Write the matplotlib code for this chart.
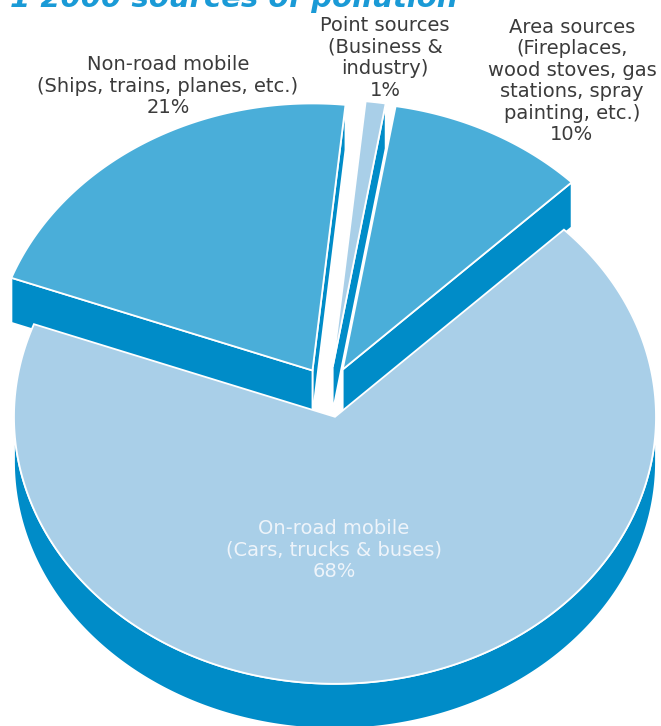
import numpy as np
import matplotlib
matplotlib.use("Agg")
import matplotlib.pyplot as plt
from matplotlib.patches import Polygon

# ---- data ----
categories = ["Area sources", "Point sources", "Non-road mobile", "On-road mobile"]
details = ["(Fireplaces,\nwood stoves, gas\nstations, spray\npainting, etc.)",
           "(Business &\nindustry)",
           "(Ships, trains, planes, etc.)",
           "(Cars, trucks & buses)"]
shares = [10, 1, 21, 68]
title_text = "1 2000 sources of pollution"

# ---- style ----
top_colors = ["#4aaed9", "#a9cfe8", "#4aaed9", "#a9cfe8"]
wall_color = "#008cc8"
W, H = 661, 726
cx0, cy0 = 328.6, 392.0      # pie centre (pixels)
ra, rb = 321.0, 267.0        # horizontal / vertical radius
depth = 45.0
explode = 0.095
start_angle = 44.5

fig = plt.figure(figsize=(W / 100, H / 100), dpi=100)
ax = fig.add_axes([0, 0, 1, 1])
ax.set_xlim(0, W)
ax.set_ylim(H, 0)
ax.axis("off")

vals = np.array(shares, dtype=float)
spans = vals / vals.sum() * 360.0
starts = start_angle + np.concatenate([[0], np.cumsum(spans)[:-1]])
ends = starts + spans
mids = (starts + ends) / 2


def pt(c, th, dz=0.0):
    t = np.radians(th)
    return (c[0] + ra * np.cos(t), c[1] - rb * np.sin(t) + dz)


def arc(c, t0, t1, dz=0.0, n=None):
    n = n or max(4, int(abs(t1 - t0) * 2))
    ts = np.radians(np.linspace(t0, t1, n))
    return np.column_stack([c[0] + ra * np.cos(ts), c[1] - rb * np.sin(ts) + dz])


order = np.argsort(-np.sin(np.radians(mids)))
ec = "white"
lw = 1.3
for i in order:
    m = np.radians(mids[i])
    c = (cx0 + explode * ra * np.cos(m), cy0 - explode * rb * np.sin(m))
    t0, t1 = starts[i], ends[i]
    # outer visible wall (front half)
    for k in range(-1, 3):
        lo, hi = max(t0, 180 + 360 * k), min(t1, 360 + 360 * k)
        if hi > lo:
            top = arc(c, lo, hi)
            bot = arc(c, hi, lo, depth)
            ax.add_patch(Polygon(np.vstack([top, bot]), closed=True,
                                 fc=wall_color, ec=ec, lw=lw, zorder=2))
    # radial walls
    for th, vis in ((t0, np.cos(np.radians(t0)) > 0), (t1, np.cos(np.radians(t1)) < 0)):
        if vis:
            p = pt(c, th)
            poly = [c, p, (p[0], p[1] + depth), (c[0], c[1] + depth)]
            ax.add_patch(Polygon(poly, closed=True, fc=wall_color, ec=ec, lw=lw, zorder=2))
    # top face
    face = np.vstack([[c], arc(c, t0, t1)])
    ax.add_patch(Polygon(face, closed=True, fc=top_colors[i], ec=ec, lw=lw, zorder=2))

font = ["DejaVu Sans"]
txt_col = "#3b3b3b"
fs = 14.0
label_pos = [(572, 81), (385, 58), (168, 86), (334, 550)]
for i in range(4):
    col = "#eef4fa" if i == 3 else txt_col
    s = f"{categories[i]}\n{details[i]}\n{shares[i]}%"
    ax.text(label_pos[i][0], label_pos[i][1], s, ha="center", va="center",
            fontsize=fs, color=col, family=font, linespacing=1.17, zorder=5)

ax.text(10, 7, title_text, ha="left", va="baseline", fontsize=21, color="#1a9ad6",
        fontweight="bold", fontstyle="italic", family=font, zorder=5)

fig.savefig("out.png", dpi=100)
